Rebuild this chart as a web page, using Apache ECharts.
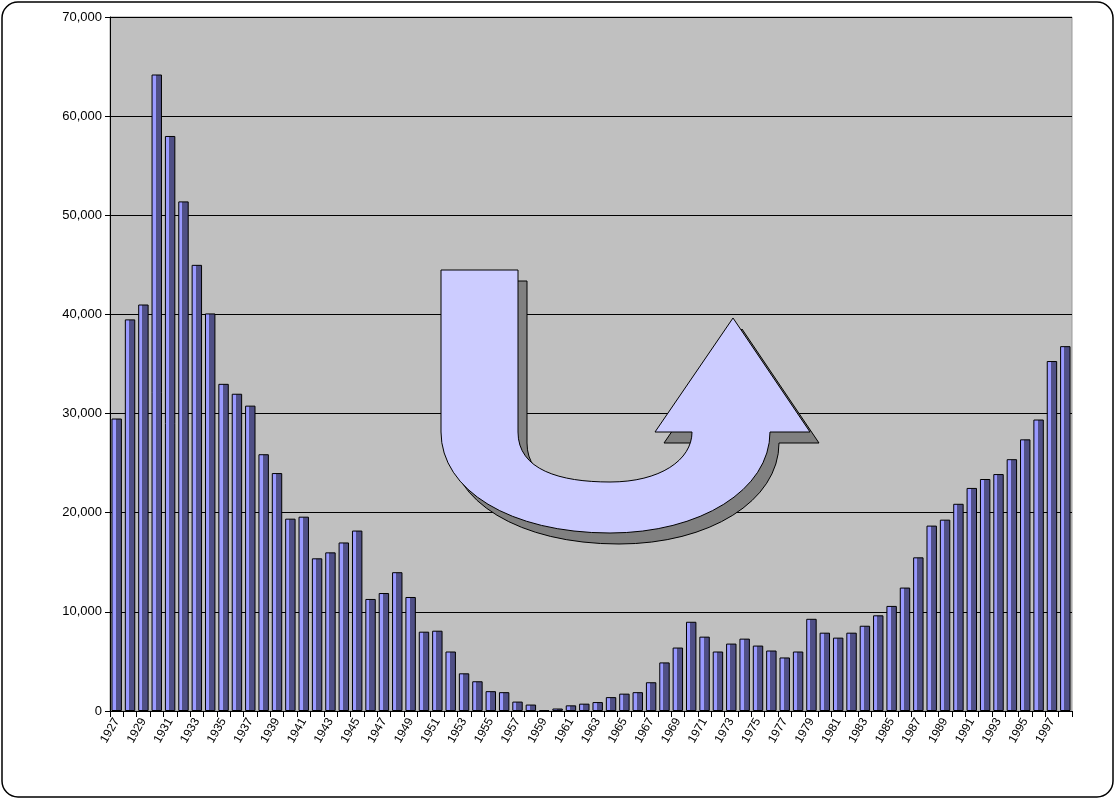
<!DOCTYPE html>
<html>
<head>
<meta charset="utf-8">
<script src="https://cdn.jsdelivr.net/npm/echarts@6/dist/echarts.min.js"></script>
<style>
  html, body { margin: 0; padding: 0; background: #fff; }
  #main { width: 1116px; height: 800px; }
</style>
</head>
<body>
<div id="main"></div>
<script>
const years = [];
for (let y = 1927; y <= 1998; y++) years.push(String(y));

const values = [
  29500, 39500, 41000, 64200, 58000, 51400, 45000, 40100, 33000, 32000,
  30800, 25900, 24000, 19400, 19600, 15400, 16000, 17000, 18200, 11300,
  11900, 14000, 11500, 8000, 8100, 6000, 3800, 3000, 2000, 1900,
  950, 650, 100, 250, 570, 740, 900, 1400, 1750, 1900,
  2900, 4900, 6400, 9000, 7500, 6000, 6800, 7300, 6600, 6100,
  5400, 6000, 9300, 7900, 7400, 7900, 8600, 9650, 10600, 12450,
  15500, 18700, 19300, 20900, 22500, 23400, 23900, 25400, 27400, 29400,
  35300, 36800
];

// decorative U-turn arrow outline, curves sampled from cubic beziers
function bez(p0, p1, p2, p3, n) {
  const pts = [];
  for (let i = 1; i <= n; i++) {
    const t = i / n, u = 1 - t;
    pts.push([
      u*u*u*p0[0] + 3*u*u*t*p1[0] + 3*u*t*t*p2[0] + t*t*t*p3[0],
      u*u*u*p0[1] + 3*u*u*t*p1[1] + 3*u*t*t*p2[1] + t*t*t*p3[1]
    ]);
  }
  return pts;
}
const arrowPts = [[441, 270], [518, 270], [518, 432]]
  .concat(bez([518, 432], [518, 470], [560, 482], [610, 482], 16))
  .concat(bez([610, 482], [660, 482], [692, 460], [692, 432], 16))
  .concat([[655, 432], [733, 318], [810, 432], [770, 432]])
  .concat(bez([770, 432], [770, 490], [700, 533], [610, 533], 16))
  .concat(bez([610, 533], [510, 533], [441, 490], [441, 432], 16));

const chart = echarts.init(document.getElementById('main'));
chart.setOption({
  animation: false,
  backgroundColor: '#fff',
  grid: { left: 110, right: 44, top: 17, bottom: 89, show: true, backgroundColor: '#c0c0c0', borderColor: '#999' },
  xAxis: {
    type: 'category',
    data: years,
    axisLine: { lineStyle: { color: '#000' } },
    axisTick: { show: true, interval: 0, length: 6, lineStyle: { color: '#000' } },
    axisLabel: { interval: 1, rotate: 60, color: '#000', fontSize: 12, fontFamily: 'Liberation Sans' }
  },
  yAxis: {
    type: 'value',
    min: 0, max: 70000, interval: 10000,
    axisLine: { show: true, lineStyle: { color: '#000' } },
    axisTick: { show: true, length: 5, lineStyle: { color: '#000' } },
    axisLabel: { color: '#000', fontSize: 13, fontFamily: 'Liberation Sans' },
    splitLine: { lineStyle: { color: '#000', width: 1 } }
  },
  series: [{
    type: 'bar',
    data: values,
    barCategoryGap: '22%',
    itemStyle: {
      borderColor: '#000',
      borderWidth: 1,
      color: {
        type: 'linear', x: 0, y: 0, x2: 1, y2: 0,
        colorStops: [
          { offset: 0, color: '#9999ff' },
          { offset: 0.4, color: '#9999ff' },
          { offset: 0.4, color: '#4f4f85' },
          { offset: 1, color: '#4f4f85' }
        ]
      }
    }
  }],
  graphic: [
    { type: 'rect', shape: { x: 2, y: 2, width: 1111, height: 795, r: 16 }, style: { fill: 'none', stroke: '#000', lineWidth: 1.5 }, z: 100 },
    { type: 'polygon', x: 9, y: 11, shape: { points: arrowPts }, style: { fill: '#808080', stroke: '#000', lineWidth: 1 }, z: 100 },
    { type: 'polygon', shape: { points: arrowPts }, style: { fill: '#ccccff', stroke: '#000', lineWidth: 1 }, z: 101 }
  ]
});
</script>
</body>
</html>
